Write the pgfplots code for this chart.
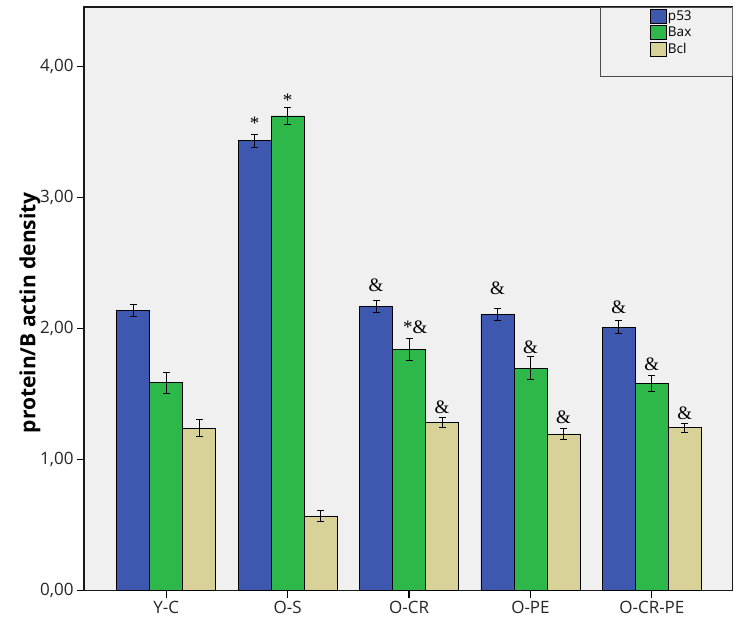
\documentclass[border=0pt]{standalone}
\usepackage{pgfplots}
\usepackage{pgfplotstable}
\pgfplotsset{compat=1.18}
\usepackage{fontspec}
\setmainfont{Open Sans}
\newfontfamily\serifann{Liberation Serif}
\definecolor{cblue}{RGB}{62,88,176}
\definecolor{cgreen}{RGB}{46,184,74}
\definecolor{ctan}{RGB}{216,209,152}
\definecolor{bg}{RGB}{240,240,240}

\pgfplotstableread{
x p53 p53e bax baxe bcl bcle
0 2.136 0.045 1.586 0.080 1.240 0.067
1 3.434 0.050 3.622 0.064 0.569 0.040
2 2.166 0.046 1.843 0.084 1.281 0.038
3 2.108 0.048 1.698 0.087 1.195 0.045
4 2.011 0.050 1.582 0.062 1.243 0.035
}\data

\begin{document}
\begin{tikzpicture}
\useasboundingbox (-84bp,-32.5bp) rectangle (655bp,590.5bp);
\begin{axis}[
  scale only axis, width=648.7bp, height=583.5bp,
  at={(0,0)}, anchor=south west,
  xmin=-0.678, xmax=4.666, ymin=0, ymax=4.454,
  axis background/.style={fill=bg},
  ybar=0pt, bar width=33bp,
  xtick={0,1,2,3,4}, xticklabels={Y-C,O-S,O-CR,O-PE,O-CR-PE},
  ytick={0,1,2,3,4},
  /pgf/number format/assume math mode=true,
  yticklabel style={/pgf/number format/fixed, /pgf/number format/fixed zerofill, /pgf/number format/precision=2, /pgf/number format/use comma},
  tick style={black, line width=1.2bp},
  major tick length=7bp,
  tick align=outside,
  xtick pos=bottom, ytick pos=left,
  axis line style={black!90, line width=1.2bp},
  tick label style={font=\fontsize{17bp}{19bp}\selectfont, text=black!85},
  ylabel={protein/B actin density},
  every axis y label/.style={at={(axis description cs:-0.0832,0.476)}, rotate=90, anchor=center, font=\bfseries\fontsize{21bp}{24bp}\selectfont},
  legend style={at={(axis description cs:0.8725,0.9966)}, anchor=north west, draw=none, fill=none, font=\fontsize{13.5bp}{15bp}\selectfont, inner sep=0pt, row sep=1.5bp, nodes={inner sep=1bp}},
  legend cell align=left,
  legend image code/.code={\draw[#1, draw=black, line width=0.8bp] (0bp,-7bp) rectangle (16bp,7bp);},
  error bars/error bar style={black, line width=1bp},
  error bars/error mark options={rotate=90, mark size=3.5bp, line width=1bp, black},
]
\draw[black!70, line width=0.8bp, fill=bg] (rel axis cs:0.7955,0.8818) rectangle (rel axis cs:1,1);
\addplot[fill=cblue, draw=black, line width=0.8bp, error bars/.cd, y dir=both, y explicit]
  table[x=x, y=p53, y error=p53e] {\data};
\addlegendentry{p53}
\addplot[fill=cgreen, draw=black, line width=0.8bp, error bars/.cd, y dir=both, y explicit]
  table[x=x, y=bax, y error=baxe] {\data};
\addlegendentry{Bax}
\addplot[fill=ctan, draw=black, line width=0.8bp, error bars/.cd, y dir=both, y explicit]
  table[x=x, y=bcl, y error=bcle] {\data};
\addlegendentry{Bcl}
\begin{scope}[every node/.style={font=\serifann\fontsize{19bp}{20bp}\selectfont, text=black, anchor=base, inner sep=0pt}]
\node at (axis cs:0.728,3.517) {*};
\node at (axis cs:1,3.695) {*};
\node at (axis cs:1.728,2.281) {\&};
\node at (axis cs:2.05,1.963) {*\&};
\node at (axis cs:2.272,1.353) {\&};
\node at (axis cs:2.728,2.256) {\&};
\node at (axis cs:3,1.811) {\&};
\node at (axis cs:3.272,1.276) {\&};
\node at (axis cs:3.728,2.116) {\&};
\node at (axis cs:4,1.683) {\&};
\node at (axis cs:4.272,1.305) {\&};
\end{scope}
\end{axis}
\end{tikzpicture}
\end{document}
